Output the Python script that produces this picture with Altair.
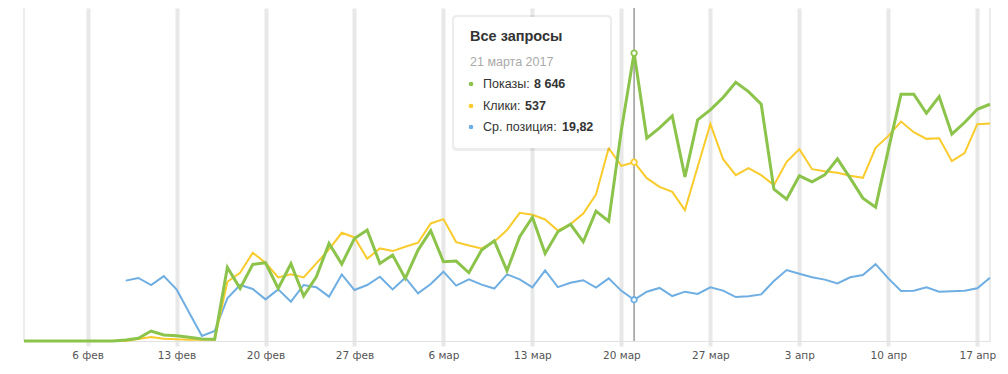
import altair as alt
import pandas as pd

# ---- data -------------------------------------------------------------
dates = pd.date_range("2017-02-01", periods=77, freq="D").strftime("%Y-%m-%d").tolist()

impressions = [0, 0, 0, 0, 0, 0, 0, 0, 30, 80,
               300, 180, 160, 110, 60, 50, 2210, 1580, 2300, 2350,
               1580, 2320, 1350, 1930, 2930, 2310, 3080, 3330, 2330, 2580,
               1880, 2730, 3310, 2380, 2400, 2050, 2730, 3010, 2110, 3130,
               3715, 2630, 3280, 3505, 2980, 3900, 3600, 6340, 8646, 6090,
               6400, 6760, 4930, 6640, 6940, 7310, 7770, 7490, 7110, 4560,
               4260, 4960, 4780, 4990, 5470, 4890, 4290, 4020, 5740, 7410,
               7410, 6840, 7340, 6210, 6560, 6960, 7110]

clicks = [0, 0, 0, 0, 0, 0, 0, 0, 0, 6,
          12, 7, 5, 4, 4, 4, 178, 205, 265, 235,
          191, 200, 191, 233, 275, 325, 311, 247, 278, 270,
          283, 295, 353, 366, 297, 287, 278, 298, 333, 385,
          379, 365, 332, 351, 383, 440, 579, 526, 537, 489,
          463, 448, 393, 523, 652, 546, 498, 519, 498, 468,
          538, 576, 516, 510, 505, 496, 490, 580, 616, 659,
          627, 607, 609, 540, 564, 651, 653]

position = [None, None, None, None, None, None, None, None, 29.0, 30.3,
            26.9, 31.2, 24.8, 13.6, 2.4, 4.8, 20.5, 26.9, 25.0, 20.0,
            24.8, 18.9, 26.9, 25.8, 21.3, 32.0, 24.5, 26.9, 30.9, 24.8,
            30.4, 22.9, 27.4, 33.3, 26.6, 29.6, 27.1, 25.2, 32.0, 29.6,
            25.8, 33.9, 25.9, 28.0, 29.2, 25.7, 30.1, 24.1, 19.82, 23.7,
            25.5, 21.6, 23.7, 22.6, 25.8, 24.2, 21.1, 21.5, 22.4, 28.8,
            34.1, 32.3, 30.6, 29.5, 27.7, 30.6, 31.7, 36.9, 30.1, 24.0,
            24.2, 25.8, 23.7, 23.9, 24.2, 25.3, 30.4]

tick_days = [(2, 6), (2, 13), (2, 20), (2, 27), (3, 6), (3, 13), (3, 20),
             (3, 27), (4, 3), (4, 10), (4, 17)]
month_names = ["янв", "фев", "мар", "апр", "май"]

hover_index = 48
hover_label = "21 марта 2017"
tooltip_title = "Все запросы"
series_names = ["Показы:", "Клики:", "Ср. позиция:"]

GREEN = "#8cc34b"
YELLOW = "#f9cb2c"
BLUE = "#6eaee2"

# ---- chart ------------------------------------------------------------
df = pd.DataFrame({"date": dates, "imp": impressions, "clk": clicks, "pos": position})
hover_df = df.iloc[[hover_index]]
edges_df = pd.DataFrame({"date": [dates[0], dates[-1]]})

label_expr = ("utcdate(datum.value) + ' ' + " + str(month_names).replace('"', "'")
              + "[utcmonth(datum.value)]")

x_enc = alt.X(
    "date:T",
    scale=alt.Scale(type="utc",
                    domain=[alt.DateTime(year=2017, month=2, date=1, utc=True),
                            alt.DateTime(year=2017, month=4, date=18, utc=True)]),
    axis=alt.Axis(
        values=[alt.DateTime(year=2017, month=m, date=d, utc=True) for m, d in tick_days],
        labelExpr=label_expr, title=None, grid=True, gridColor="#e8e8e8", gridWidth=4,
        tickColor="#e8e8e8", tickWidth=4, tickSize=5, domainColor="#e2e2e2",
        domainWidth=1, labelFont="DejaVu Sans", labelFontSize=10.5, labelColor="#555555",
        labelPadding=4, labelFlush=False),
)

y_imp = alt.Y("imp:Q", scale=alt.Scale(domain=[0, 10000]), axis=None)
y_clk = alt.Y("clk:Q", scale=alt.Scale(domain=[0, 1000]), axis=None)
y_pos = alt.Y("pos:Q", scale=alt.Scale(domain=[0, 160]), axis=None)

edges = alt.Chart(edges_df).mark_rule(color="#ececec", strokeWidth=2).encode(x=x_enc)
hover_rule = alt.Chart(hover_df).mark_rule(color="#9a9a9a", strokeWidth=1.5).encode(x=x_enc)

line_pos = alt.Chart(df).mark_line(color=BLUE, strokeWidth=2).encode(x=x_enc, y=y_pos)
line_clk = alt.Chart(df).mark_line(color=YELLOW, strokeWidth=2).encode(x=x_enc, y=y_clk)
line_imp = alt.Chart(df).mark_line(color=GREEN, strokeWidth=3).encode(x=x_enc, y=y_imp)

pt_kw = dict(filled=True, fill="white", size=30, strokeWidth=1.8, opacity=1)
pt_pos = alt.Chart(hover_df).mark_point(stroke=BLUE, **pt_kw).encode(x=x_enc, y=y_pos)
pt_clk = alt.Chart(hover_df).mark_point(stroke=YELLOW, **pt_kw).encode(x=x_enc, y=y_clk)
pt_imp = alt.Chart(hover_df).mark_point(stroke=GREEN, **pt_kw).encode(x=x_enc, y=y_imp)

# ---- tooltip overlay ----------------------------------------------------
one = alt.Data(values=[{"k": 1}])
v_imp = f"{impressions[hover_index]:,}".replace(",", " ")
v_clk = f"{clicks[hover_index]}"
v_pos = f"{position[hover_index]:.2f}".replace(".", ",")

shadow = alt.Chart(one).mark_rect(fill="#000000", opacity=0.07, cornerRadius=4).encode(
    x=alt.value(428), x2=alt.value(588), y=alt.value(7), y2=alt.value(143))
box = alt.Chart(one).mark_rect(fill="white", cornerRadius=3).encode(
    x=alt.value(430), x2=alt.value(586), y=alt.value(9), y2=alt.value(140))

txt_font = "Liberation Sans"


def text(s, xpx, ypx, size, color="#333333", weight="normal"):
    return alt.Chart(one).mark_text(
        text=s, align="left", baseline="middle", font=txt_font, fontSize=size,
        color=color, fontWeight=weight).encode(x=alt.value(xpx), y=alt.value(ypx))


def bullet(color, ypx):
    return alt.Chart(one).mark_point(filled=True, color=color, size=22, opacity=1).encode(
        x=alt.value(447), y=alt.value(ypx))


overlay = [
    shadow, box,
    text(tooltip_title, 446, 29, 14.5, "#333333", "bold"),
    text(hover_label, 446, 54, 12.5, "#aaaaaa"),
    bullet(GREEN, 76), text(series_names[0], 459, 76, 12.5),
    text(v_imp, 510, 76, 12.5, weight="bold"),
    bullet(YELLOW, 98), text(series_names[1], 459, 98, 12.5),
    text(v_clk, 501, 98, 12.5, weight="bold"),
    bullet(BLUE, 119), text(series_names[2], 459, 119, 12.5),
    text(v_pos, 538, 119, 12.5, weight="bold"),
]

chart = alt.layer(
    edges, hover_rule, line_pos, line_clk, line_imp, pt_pos, pt_clk, pt_imp, *overlay
).resolve_scale(y="independent").properties(
    width=966, height=333,
    padding={"left": 16, "top": 0, "right": 10, "bottom": 25},
    autosize=alt.AutoSizeParams(type="none"),
    background="white",
).configure_view(stroke=None)

chart.save("out.html", embed_options={"renderer": "svg", "actions": False})
